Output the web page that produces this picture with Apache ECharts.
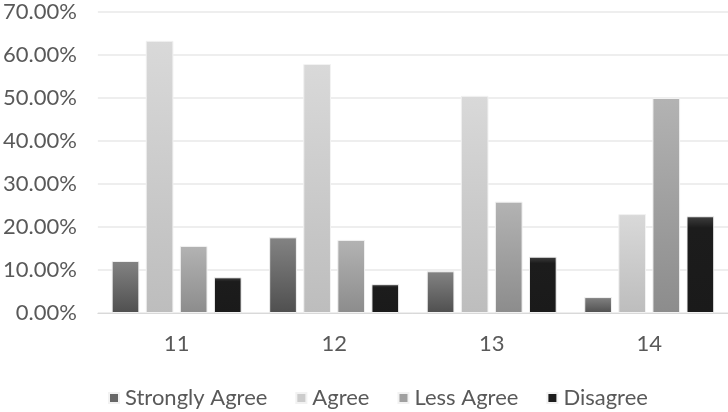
<!DOCTYPE html>
<html><head><meta charset="utf-8">
<script src="https://cdn.jsdelivr.net/npm/echarts@6/dist/echarts.min.js"></script>
<style>html,body{margin:0;padding:0;background:#fff}#c{width:728px;height:412px}</style>
</head><body><div id="c"></div>
<script>
const categories = ['11', '12', '13', '14'];
const stronglyAgree = [12.1, 17.6, 9.7, 3.7];
const agree = [63.3, 57.9, 50.5, 23.0];
const lessAgree = [15.6, 17.0, 25.9, 50.0];
const disagree = [8.3, 6.7, 13.1, 22.5];
const seriesNames = ['Strongly Agree', 'Agree', 'Less Agree', 'Disagree'];

function grad(top, bottom, mid) {
  const stops = [{offset: 0, color: top}];
  if (mid) stops.push({offset: 0.12, color: mid});
  stops.push({offset: 1, color: bottom});
  return new echarts.graphic.LinearGradient(0, 0, 0, 1, stops);
}
const fills = [
  grad('#838383', '#4f4f4f'),
  grad('#d9d9d9', '#bdbdbd'),
  grad('#b3b3b3', '#8c8c8c'),
  grad('#3f3f3f', '#1a1a1a', '#1c1c1c')
];
const legendColors = ['#676767', '#cccccc', '#a0a0a0', '#1c1c1c'];
const dataSets = [stronglyAgree, agree, lessAgree, disagree];
const font = 'Lato, "Open Sans", sans-serif';
const fs = 22;

const chart = echarts.init(document.getElementById('c'));
chart.setOption({
  animation: false,
  grid: {left: 93, right: 0, top: 12, bottom: 99},
  legend: {
    top: 382, left: 103, itemWidth: 10, itemHeight: 10, itemGap: 28,
    icon: 'rect',
    textStyle: {color: '#595959', fontSize: fs, fontFamily: font, padding: [0, 0, 0, 1]},
    data: seriesNames.map((n, i) => ({name: n, itemStyle: {color: legendColors[i]}}))
  },
  xAxis: {
    type: 'category', data: categories,
    axisLine: {lineStyle: {color: '#d9d9d9'}}, axisTick: {show: false},
    axisLabel: {color: '#595959', fontSize: fs, fontFamily: font, margin: 20}
  },
  yAxis: {
    type: 'value', min: 0, max: 70, interval: 10,
    axisLine: {show: false}, axisTick: {show: false},
    splitLine: {lineStyle: {color: '#e9e9e9', width: 1.5}},
    axisLabel: {color: '#595959', fontSize: fs, fontFamily: font, margin: 21,
      formatter: v => v.toFixed(2) + '%'}
  },
  series: seriesNames.map((n, i) => ({
    name: n, type: 'bar', data: dataSets[i],
    barGap: '23%', barCategoryGap: '17.5%',
    itemStyle: {color: fills[i], borderColor: '#f2f2f2', borderWidth: 1}
  }))
});
</script></body></html>
